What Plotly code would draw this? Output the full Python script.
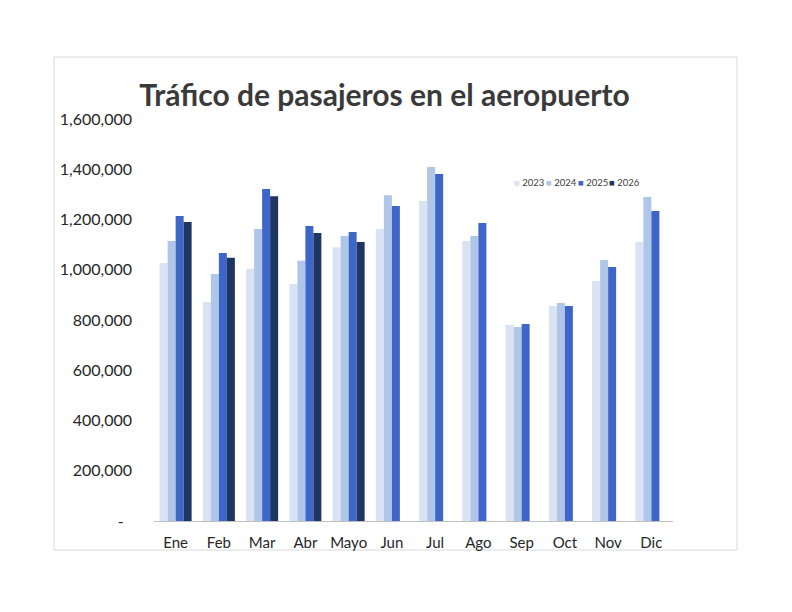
import plotly.graph_objects as go

months = ["Ene", "Feb", "Mar", "Abr", "Mayo", "Jun", "Jul", "Ago", "Sep", "Oct", "Nov", "Dic"]
y2023 = [1027000, 872000, 1004000, 943000, 1090000, 1162000, 1274000, 1114000, 780000, 856000, 955000, 1110000]
y2024 = [1114000, 983000, 1162000, 1036000, 1134000, 1297000, 1409000, 1134000, 772000, 868000, 1039000, 1290000]
y2025 = [1214000, 1067000, 1321000, 1174000, 1150000, 1254000, 1381000, 1186000, 784000, 856000, 1011000, 1234000]
y2026 = [1190000, 1048000, 1293000, 1146000, 1110000, None, None, None, None, None, None, None]
series_names = ["2023", "2024", "2025", "2026"]
colors = ["#dae3f3", "#b0c6e8", "#3d66c8", "#1f3562"]

tick_vals = [0, 200000, 400000, 600000, 800000, 1000000, 1200000, 1400000, 1600000]
tick_text = ["-\u00a0\u00a0"] + [f"{v:,}" for v in tick_vals[1:]]

# page body has an 8px margin, so the figure is drawn 8px in from the window edge
W, H = 784, 604
OX, OY = 8, 8
L, T, PW, PH = 154 - OX, 119 - OY, 519, 402

fig = go.Figure()
for name, vals, c in zip(series_names, [y2023, y2024, y2025, y2026], colors):
    fig.add_trace(go.Bar(x=months, y=vals, name=name, showlegend=False,
                         marker=dict(color=c, line=dict(width=0))))

def px_x(x):
    return (x - 154) / PW

def px_y(y):
    return (521 - y) / PH

fig.update_layout(
    width=W, height=H,
    paper_bgcolor="white", plot_bgcolor="white",
    barmode="group", bargap=0.26, bargroupgap=0,
    margin=dict(l=L, r=W - L - PW, t=T, b=H - T - PH),
    font=dict(family="Lato, Open Sans, sans-serif", color="#404040"),
    title=dict(text="<b>Tráfico de pasajeros en el aeropuerto</b>",
               x=(384.5 - OX) / W, xanchor="center", y=1 - (95 - OY) / H, yanchor="middle",
               font=dict(size=30, color="#3a3a3a", family="Lato, sans-serif")),
)
fig.update_xaxes(showgrid=False, showline=True, linecolor="#bfbfbf", linewidth=1,
                 ticks="", tickfont=dict(size=15, color="#262626"), ticklabelstandoff=8)
fig.update_yaxes(range=[0, 1600000], tickvals=tick_vals, ticktext=tick_text,
                 showgrid=False, zeroline=False, showline=False, ticks="",
                 tickfont=dict(size=16, color="#262626"), ticklabelstandoff=21)

# legend entries
legend_x = [512, 544, 576, 607]
for name, c, lx in zip(series_names, colors, legend_x):
    fig.add_annotation(xref="paper", yref="paper", x=px_x(lx), y=px_y(182),
                       xanchor="left", yanchor="middle", showarrow=False,
                       text=f"<span style='color:{c}'>■</span> {name}",
                       font=dict(size=9.5, color="#404040"))

fig.add_shape(type="rect", xref="paper", yref="paper",
              x0=px_x(54), x1=px_x(737), y0=px_y(550), y1=px_y(57),
              line=dict(color="#d9d9d9", width=1), fillcolor="rgba(0,0,0,0)", layer="below")

fig.write_html("out.html")
